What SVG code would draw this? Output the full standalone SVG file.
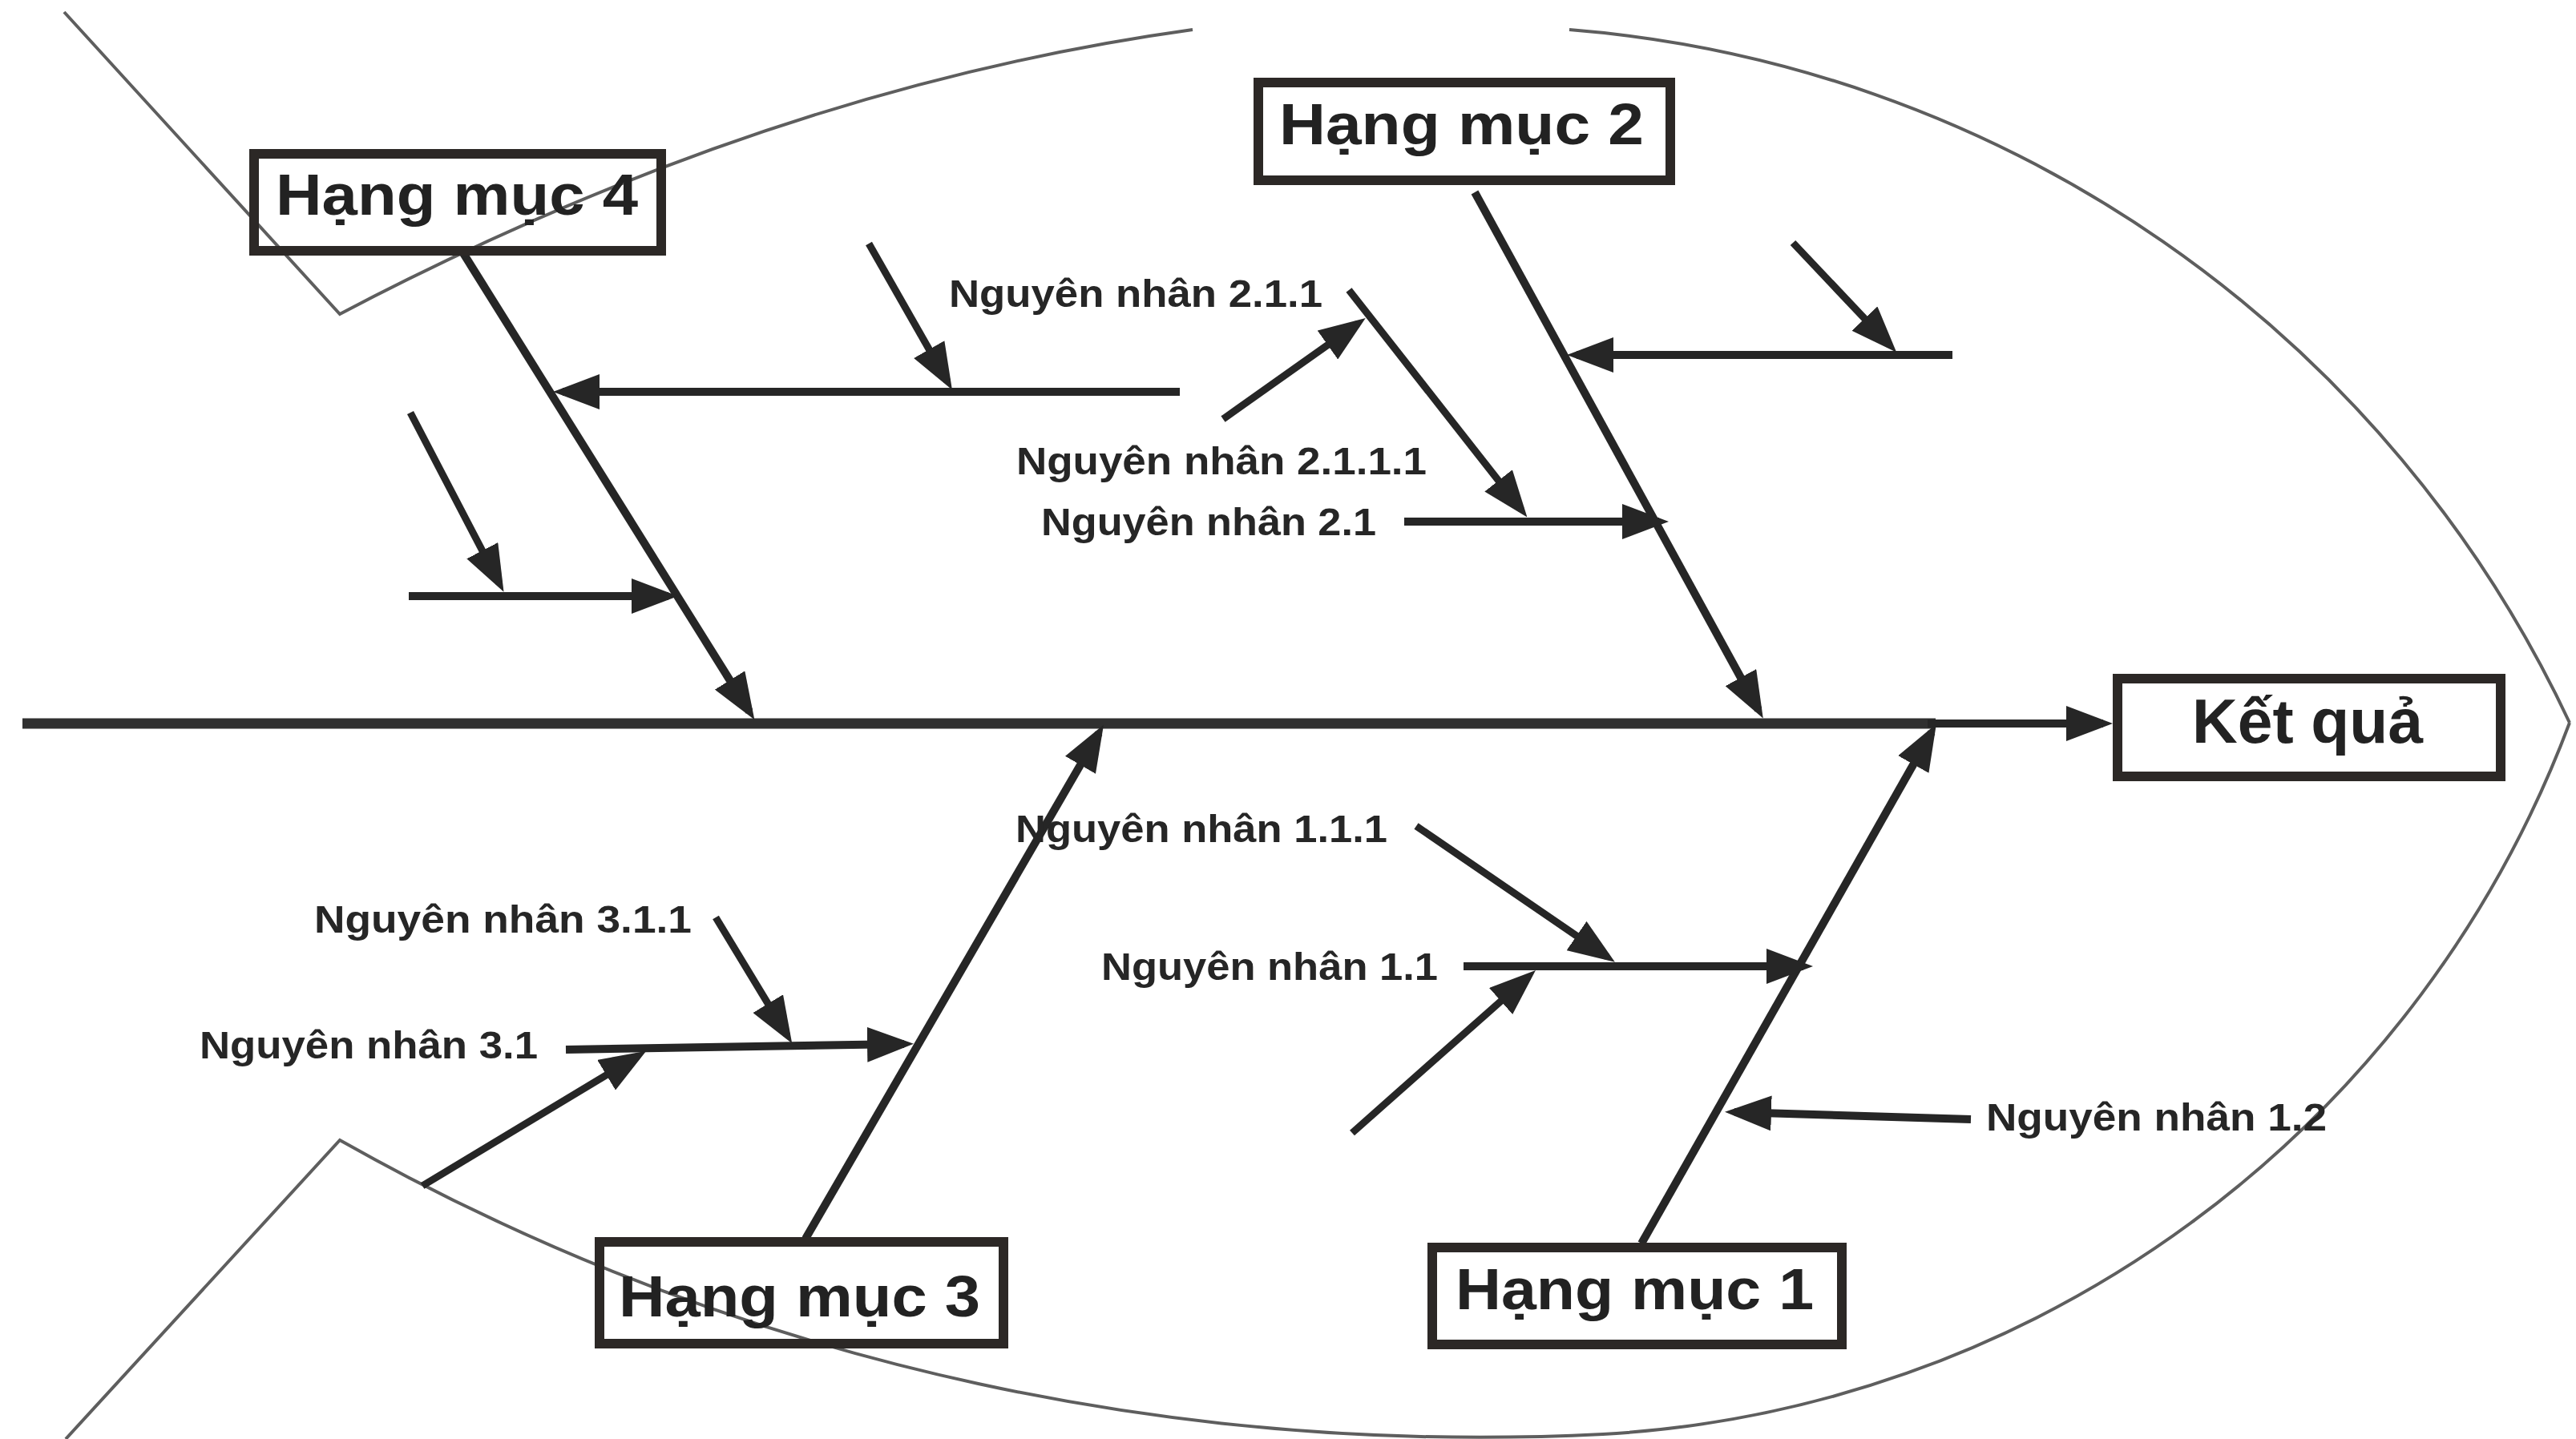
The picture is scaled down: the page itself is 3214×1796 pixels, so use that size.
<svg xmlns="http://www.w3.org/2000/svg" width="3214" height="1796" viewBox="0 0 3214 1796">
  <style>
    .outline { fill: none; stroke: #5e5e5e; stroke-width: 4; }
    .ln { fill: none; stroke: #262626; stroke-width: 10; stroke-linecap: butt; }
    .thin { stroke-width: 9; }
    .spine { fill: none; stroke: #303030; stroke-width: 13; }
    .box { fill: none; stroke: #2c2826; stroke-width: 12; }
    .cat { font-family: "Liberation Sans", Arial, sans-serif; font-weight: bold; font-size: 72px; fill: #222; }
    .res { font-family: "Liberation Sans", Arial, sans-serif; font-weight: bold; font-size: 78px; fill: #222; }
    .lbl { font-family: "Liberation Sans", Arial, sans-serif; font-weight: bold; font-size: 48px; fill: #262626; }
  </style>
  <defs>
    <marker id="ah" markerUnits="userSpaceOnUse" markerWidth="58" markerHeight="44" refX="46" refY="22" orient="auto">
      <path d="M0,0 L58,22 L0,44 Z" fill="#262626"/>
    </marker>
  </defs>
  <rect width="3214" height="1796" fill="#ffffff"/>

  <g id="outline">
    <path class="outline" d="M80,15 L424,392 Q960,110 1488,37"/>
    <path class="outline" d="M1958,37 A1511,1511 0 0 1 3206,902"/>
    <path class="outline" d="M3206,902 A1371,1371 0 0 1 2000,1790 C1500,1815 950,1720 424,1423 L82,1796"/>
  </g>

  <g id="connectors">
    <line class="spine" x1="28" y1="903" x2="2415" y2="903"/>
    <line class="ln" x1="2405" y1="903" x2="2624" y2="903" marker-end="url(#ah)"/>
    <!-- Category 4 -->
    <line class="ln" x1="578" y1="316" x2="935" y2="888" marker-end="url(#ah)"/>
    <line class="ln" x1="1472" y1="489" x2="702" y2="489" marker-end="url(#ah)"/>
    <line class="ln thin" x1="1084" y1="304" x2="1182" y2="476" marker-end="url(#ah)"/>
    <line class="ln" x1="510" y1="744" x2="834" y2="744" marker-end="url(#ah)"/>
    <line class="ln thin" x1="512" y1="515" x2="623" y2="728" marker-end="url(#ah)"/>
    <!-- Category 2 -->
    <line class="ln" x1="1840" y1="240" x2="2194" y2="886" marker-end="url(#ah)"/>
    <line class="ln" x1="2436" y1="443" x2="1967" y2="443" marker-end="url(#ah)"/>
    <line class="ln thin" x1="2237" y1="303" x2="2358" y2="431" marker-end="url(#ah)"/>
    <line class="ln" x1="1752" y1="651" x2="2070" y2="651" marker-end="url(#ah)"/>
    <line class="ln thin" x1="1683" y1="362" x2="1898" y2="636" marker-end="url(#ah)"/>
    <line class="ln thin" x1="1526" y1="523" x2="1694" y2="404" marker-end="url(#ah)"/>
    <!-- Category 3 -->
    <line class="ln" x1="1005" y1="1546" x2="1371" y2="915" marker-end="url(#ah)"/>
    <line class="ln" x1="706" y1="1310" x2="1128" y2="1303" marker-end="url(#ah)"/>
    <line class="ln thin" x1="893" y1="1145" x2="982" y2="1292" marker-end="url(#ah)"/>
    <line class="ln thin" x1="527" y1="1480" x2="796" y2="1318" marker-end="url(#ah)"/>
    <!-- Category 1 -->
    <line class="ln" x1="2048" y1="1552" x2="2410" y2="914" marker-end="url(#ah)"/>
    <line class="ln" x1="1826" y1="1206" x2="2250" y2="1206" marker-end="url(#ah)"/>
    <line class="ln thin" x1="1767" y1="1031" x2="2005" y2="1194" marker-end="url(#ah)"/>
    <line class="ln thin" x1="1687" y1="1414" x2="1907" y2="1219" marker-end="url(#ah)"/>
    <line class="ln" x1="2459" y1="1397" x2="2164" y2="1388" marker-end="url(#ah)"/>
  </g>

  <g id="node-hang-muc-4">
    <rect class="box" x="317" y="192" width="508" height="121"/>
    <text class="cat" x="344" y="268" textLength="452" lengthAdjust="spacingAndGlyphs">Hạng mục 4</text>
  </g>
  <g id="node-hang-muc-2">
    <rect class="box" x="1570" y="103" width="514" height="122"/>
    <text class="cat" x="1596" y="180" textLength="455" lengthAdjust="spacingAndGlyphs">Hạng mục 2</text>
  </g>
  <g id="node-hang-muc-3">
    <rect class="box" x="748" y="1550" width="504" height="127"/>
    <text class="cat" x="772" y="1643" textLength="451" lengthAdjust="spacingAndGlyphs">Hạng mục 3</text>
  </g>
  <g id="node-hang-muc-1">
    <rect class="box" x="1787" y="1557" width="511" height="121"/>
    <text class="cat" x="1816" y="1634" textLength="447" lengthAdjust="spacingAndGlyphs">Hạng mục 1</text>
  </g>
  <g id="node-ket-qua">
    <rect class="box" x="2642" y="847" width="478" height="122"/>
    <text class="res" x="2735" y="927" textLength="288" lengthAdjust="spacingAndGlyphs">Kết quả</text>
  </g>

  <g id="label-2-1-1"><text class="lbl" x="1184" y="383" textLength="466" lengthAdjust="spacingAndGlyphs">Nguyên nhân 2.1.1</text></g>
  <g id="label-2-1-1-1"><text class="lbl" x="1268" y="592" textLength="512" lengthAdjust="spacingAndGlyphs">Nguyên nhân 2.1.1.1</text></g>
  <g id="label-2-1"><text class="lbl" x="1299" y="668" textLength="418" lengthAdjust="spacingAndGlyphs">Nguyên nhân 2.1</text></g>
  <g id="label-3-1-1"><text class="lbl" x="392" y="1164" textLength="471" lengthAdjust="spacingAndGlyphs">Nguyên nhân 3.1.1</text></g>
  <g id="label-3-1"><text class="lbl" x="249" y="1321" textLength="422" lengthAdjust="spacingAndGlyphs">Nguyên nhân 3.1</text></g>
  <g id="label-1-1-1"><text class="lbl" x="1267" y="1051" textLength="464" lengthAdjust="spacingAndGlyphs">Nguyên nhân 1.1.1</text></g>
  <g id="label-1-1"><text class="lbl" x="1374" y="1223" textLength="420" lengthAdjust="spacingAndGlyphs">Nguyên nhân 1.1</text></g>
  <g id="label-1-2"><text class="lbl" x="2478" y="1411" textLength="425" lengthAdjust="spacingAndGlyphs">Nguyên nhân 1.2</text></g>
</svg>
